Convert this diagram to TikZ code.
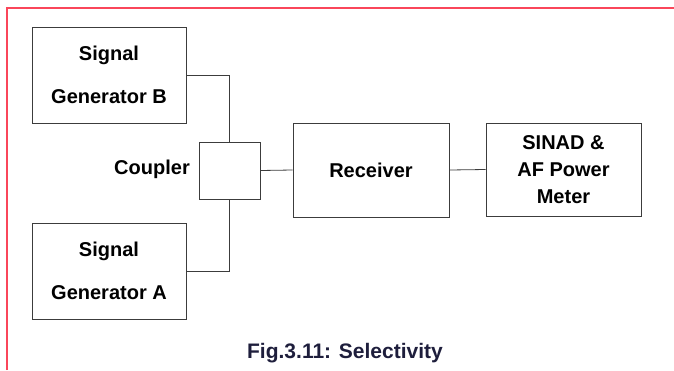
\documentclass[tikz,border=0pt]{standalone}
\usepackage{fontspec}
\setmainfont{Liberation Sans}
\definecolor{frame}{RGB}{250,70,90}
\definecolor{boxline}{RGB}{60,60,60}
\definecolor{captioncol}{RGB}{30,30,60}
\begin{document}
\begin{tikzpicture}[x=1pt,y=-1pt,
  blockbox/.style={draw=boxline,line width=0.9pt,rectangle,inner sep=0pt,align=center,
    font=\bfseries\fontsize{20}{27}\selectfont,text=black},
  genbox/.style={blockbox,minimum width=154pt,minimum height=96pt,
    font=\bfseries\fontsize{20}{43}\selectfont},
  wire/.style={draw=boxline,line width=0.8pt},
  lbl/.style={font=\bfseries\fontsize{20}{24}\selectfont,text=black,inner sep=0pt}]
\useasboundingbox (0,0) rectangle (674,370);
\draw[frame,line width=2pt] (7,370) -- (7,8) -- (674,8);
\node[genbox] (genB) at (109,75) {Signal\\Generator B};
\node[genbox] (genA) at (109,271) {Signal\\Generator A};
\node[blockbox,minimum width=61pt,minimum height=57pt] (coupler) at (229.5,170.5) {};
\node[lbl,anchor=east] (couplerlbl) at (190,169) {Coupler};
\node[blockbox,minimum width=156pt,minimum height=94pt] (receiver) at (371,170) {Receiver};
\node[blockbox,minimum width=155pt,minimum height=93pt] (sinad) at (563.5,169.5) {SINAD \&\\AF Power\\Meter};
\draw[wire] (genB.east) -| (coupler.north);
\draw[wire] (genA.east) -| (coupler.south);
\draw[wire] (coupler.east) -- (receiver.west);
\draw[wire] (receiver.east) -- (sinad.west);
\node[font=\bfseries\fontsize{21}{24}\selectfont,text=captioncol,inner sep=0pt] (caption) at (345,353) {Fig.3.11: Selectivity};
\end{tikzpicture}
\end{document}
